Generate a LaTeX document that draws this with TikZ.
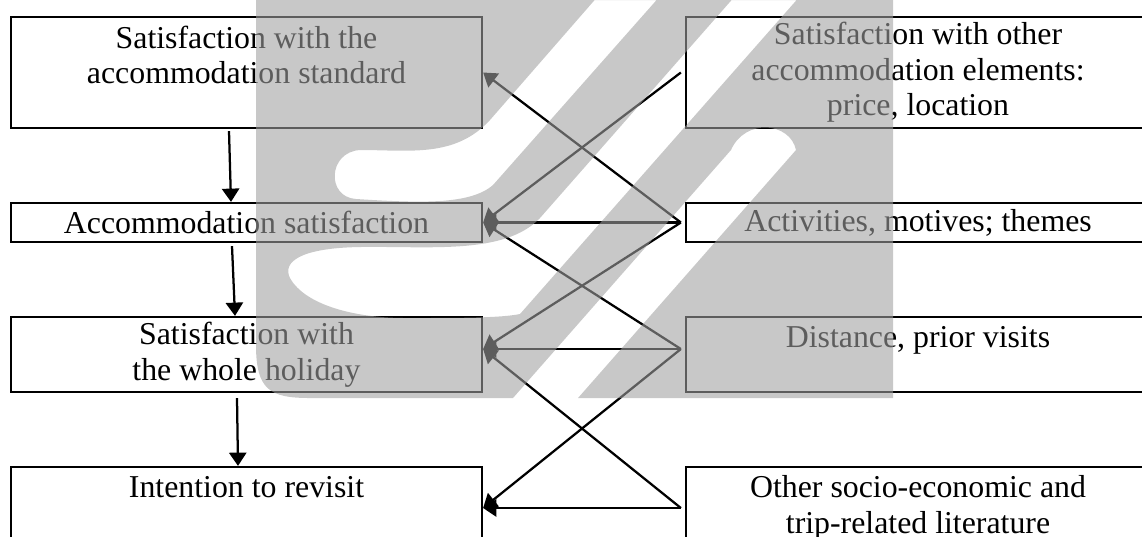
\documentclass[tikz,border=0pt]{standalone}
\usepackage{fontspec}
\setmainfont{Liberation Serif}
\usetikzlibrary{arrows.meta,calc}
\newlength{\pxu}
\setlength{\pxu}{0.377pt}
\tikzset{
  factor/.style={draw, line width=0.85pt, inner sep=0pt, align=center,
    font=\fontsize{12}{13.4}\selectfont},
  leftbox/.style={factor, minimum width=471\pxu},
  rightbox/.style={factor, minimum width=464\pxu},
  link/.style={line width=0.85pt, -{Triangle[length=5pt,width=6.5pt]}},
  wmark/.style={fill=black!37, fill opacity=0.58, even odd rule}
}
\begin{document}
\begin{tikzpicture}[x=0.377pt, y=-0.377pt]
	\useasboundingbox (0,0) rectangle (1142,536);
	% left column
	\node[leftbox, minimum height=111\pxu] (accstd) at (246.5,72.5) {Satisfaction with the\\accommodation standard\\~};
	\node[leftbox, minimum height=39\pxu] (accsat) at (246.5,222.5) {Accommodation satisfaction};
	\node[leftbox, minimum height=75\pxu] (holiday) at (246.5,354.5) {Satisfaction with\\the whole holiday};
	\node[leftbox, minimum height=110\pxu] (revisit) at (246.5,522) {Intention to revisit\\~\\~};
	% right column
	\node[rightbox, minimum height=111\pxu] (other) at (918,72.5) {Satisfaction with other\\accommodation elements:\\price, location};
	\node[rightbox, minimum height=39\pxu] (activ) at (918,222.5) {Activities, motives; themes};
	\node[rightbox, minimum height=75\pxu] (dist) at (918,354.5) {Distance, prior visits\\~};
	\node[rightbox, minimum height=110\pxu] (socio) at (918,522) {Other socio-economic and\\trip-related literature\\~};
	% ports
	\coordinate (out1) at ($(other.west)+(-4,0)$);
	\coordinate (out2) at ($(activ.west)+(-4,0)$);
	\coordinate (out3) at ($(dist.west)+(-4,-5.5)$);
	\coordinate (out4) at ($(socio.west)+(-4,-14)$);
	\coordinate (in1) at (accstd.east);
	\coordinate (in2) at (accsat.east);
	\coordinate (in3) at ($(holiday.east)+(0,-5.5)$);
	\coordinate (in4) at ($(revisit.east)+(0,-14)$);
	% chain
	\draw[link] ($(accstd.south)+(-17.5,2)$) -- ($(accsat.north)+(-15.5,0)$);
	\draw[link] ($(accsat.south)+(-14.5,3)$) -- ($(holiday.north)+(-11.5,0)$);
	\draw[link] ($(holiday.south)+(-9.5,5)$) -- ($(revisit.north)+(-8.5,0)$);
	% cross links
	\draw[link] (out1) -- (in2);
	\draw[link] (out2) -- (in1);
	\draw[link] (out2) -- (in2);
	\draw[link] (out2) -- (in3);
	\draw[link] (out3) -- (in2);
	\draw[link] (out3) -- (in3);
	\draw[link] (out3) -- (in4);
	\draw[link] (out4) -- (in3);
	\draw[link] (out4) -- (in4);
	% watermark
	\fill[wmark] (256,0) -- (256,345) .. controls (256,390) and (270,398) .. (310,398) -- (513,398) -- (731,150)
		.. controls (745,118) and (790,122) .. (796,150) -- (578,398) -- (893,398) -- (893,0) -- cycle
		(599,-5) -- (490,120) .. controls (455,158) and (410,150) .. (360,150)
		.. controls (328,152) and (326,197) .. (356,199) .. controls (420,203) and (470,205) .. (493,185)
		-- (661,-5) -- cycle
		(736,-5) -- (540,218) .. controls (505,255) and (430,246) .. (360,247)
		.. controls (300,248) and (282,262) .. (290,278) .. controls (305,305) and (355,318) .. (405,318)
		.. controls (460,318) and (500,318) .. (520,314) -- (801,-5) -- cycle;
\end{tikzpicture}
\end{document}
